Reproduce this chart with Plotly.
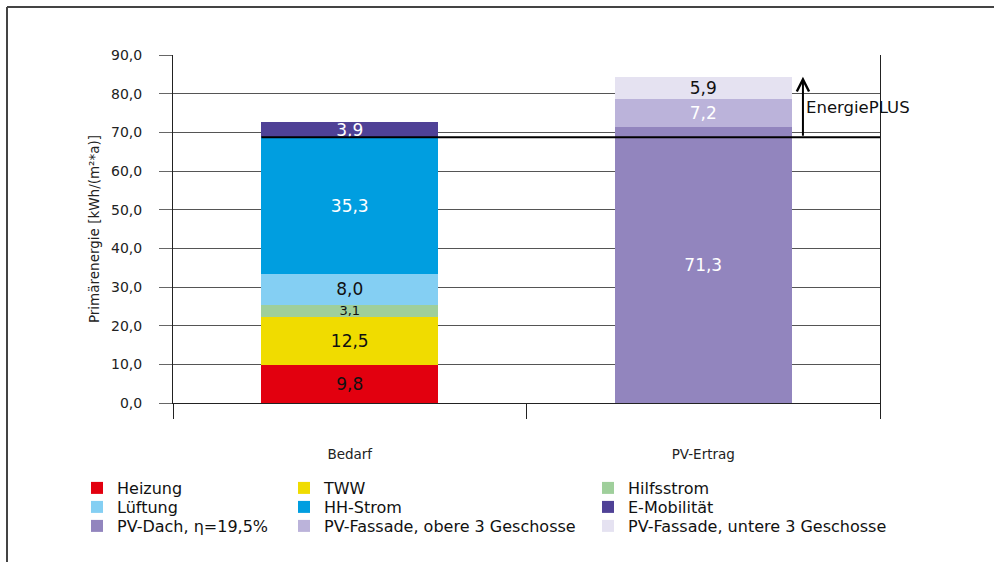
import plotly.graph_objects as go

categories = ["Bedarf", "PV-Ertrag"]

# Bedarf stack (bottom to top)
bedarf_names = ["Heizung", "TWW", "Hilfsstrom", "Lüftung", "HH-Strom", "E-Mobilität"]
bedarf_values = [9.8, 12.5, 3.1, 8.0, 35.3, 3.9]
bedarf_colors = ["#E2000F", "#F0DC00", "#9FCF9B", "#84CFF3", "#009EE0", "#4F4196"]
bedarf_textcolors = ["#111111", "#111111", "#111111", "#111111", "#FFFFFF", "#FFFFFF"]

# PV-Ertrag stack (bottom to top)
pv_names = ["PV-Dach, η=19,5%", "PV-Fassade, obere 3 Geschosse", "PV-Fassade, untere 3 Geschosse"]
pv_values = [71.3, 7.2, 5.9]
pv_colors = ["#9285BE", "#BBB3DA", "#E5E2F1"]
pv_textcolors = ["#FFFFFF", "#FFFFFF", "#111111"]

y_ticks = [0, 10, 20, 30, 40, 50, 60, 70, 80, 90]

# legend grid: columns (left to right) of rows (top to bottom)
legend_columns = [
    ["Heizung", "Lüftung", pv_names[0]],
    ["TWW", "HH-Strom", pv_names[1]],
    ["Hilfsstrom", "E-Mobilität", pv_names[2]],
]

FONT = "DejaVu Sans"

# plot area in pixels
L, R, T, B = 173, 880, 55, 403
W = R - L
H = B - T
def px(xp):
    return (xp - L) / W
def py(yp):
    return (B - yp) / H

legend_col_x = [77, 284, 588]       # pixel left of each legend column
legend_row_y = [471, 490, 509]      # pixel top of each legend row

legend_of = {}
legend_layout = {}
k = 0
for ci, col in enumerate(legend_columns):
    for ri, name in enumerate(col):
        k += 1
        key = "legend" if k == 1 else f"legend{k}"
        legend_of[name] = key
        legend_layout[key] = dict(
            x=px(legend_col_x[ci]), y=py(legend_row_y[ri]),
            xanchor="left", yanchor="top", orientation="v",
            font=dict(family=FONT, size=16, color="#111111"),
            bgcolor="rgba(0,0,0,0)", borderwidth=0,
            itemclick=False, itemdoubleclick=False,
        )

fig = go.Figure()

def add_stack(cat, names, values, colors, tcolors):
    for n, v, c, tc in zip(names, values, colors, tcolors):
        fig.add_trace(go.Bar(
            x=[cat], y=[v], name=n,
            marker=dict(color=c, line=dict(width=0)),
            texttemplate="%{y:.1f}",
            textposition="inside",
            insidetextanchor="middle",
            textangle=0,
            constraintext="none",
            textfont=dict(color=tc, size=13 if n == "Hilfsstrom" else 17, family=FONT),
            legend=legend_of[n],
            hoverinfo="skip",
        ))

add_stack(categories[0], bedarf_names, bedarf_values, bedarf_colors, bedarf_textcolors)
add_stack(categories[1], pv_names, pv_values, pv_colors, pv_textcolors)

# Level of the demand without E-Mobilität and total PV yield
base_level = sum(bedarf_values[:-1])
pv_total = sum(pv_values)

# horizontal black reference line
fig.add_shape(type="line", xref="x", yref="y", x0=-0.25, x1=1.5, y0=base_level, y1=base_level,
              line=dict(color="black", width=2))

# arrow for EnergiePLUS
arrow_x = 1.282
fig.add_annotation(x=arrow_x, y=pv_total, ax=arrow_x, ay=base_level, xref="x", yref="y",
                   axref="x", ayref="y", showarrow=True, arrowhead=5, arrowsize=1.2,
                   arrowwidth=2, arrowcolor="black", text="")
fig.add_annotation(x=arrow_x, y=76.3, xref="x", yref="y", text="EnergiePLUS",
                   showarrow=False, xanchor="left", xshift=1,
                   font=dict(family=FONT, size=16.5, color="#111111"))

# outer frame (top and left edges visible)
fig.add_shape(type="line", xref="paper", yref="paper", x0=px(7), x1=px(1000), y0=py(7), y1=py(7),
              line=dict(color="#444444", width=2))
fig.add_shape(type="line", xref="paper", yref="paper", x0=px(7), x1=px(7), y0=py(7), y1=py(570),
              line=dict(color="#444444", width=2))

fig.update_layout(
    width=994, height=562,
    margin=dict(l=L, r=994 - R, t=T, b=562 - B),
    paper_bgcolor="white", plot_bgcolor="white",
    barmode="stack", bargap=0.5,
    separators=",.",
    showlegend=True,
    font=dict(family=FONT, color="#222222"),
    xaxis=dict(
        type="category", range=[-0.5, 1.5],
        tickson="boundaries", ticks="outside", ticklen=15, tickcolor="#222222", tickwidth=1,
        showline=True, linecolor="#222222", linewidth=1, mirror=False,
        showgrid=False, zeroline=False,
        tickfont=dict(family=FONT, size=13.5, color="#222222"),
        ticklabelstandoff=39,
    ),
    yaxis=dict(
        range=[0, 90], tickvals=y_ticks, tickformat=".1f",
        ticks="outside", ticklen=13, tickcolor="#666666",
        showgrid=True, gridcolor="#555555", gridwidth=1,
        showline=True, linecolor="#222222", linewidth=1, mirror=True,
        zeroline=False,
        tickfont=dict(family=FONT, size=14, color="#222222"),
        ticklabelstandoff=14,
        title=dict(text="Primärenergie [kWh/(m²*a)]", font=dict(family=FONT, size=13.5, color="#222222"), standoff=8),
    ),
    **legend_layout,
)

fig.write_html("out.html", config={"displayModeBar": False},
               post_script="document.body.style.margin='0px';")
